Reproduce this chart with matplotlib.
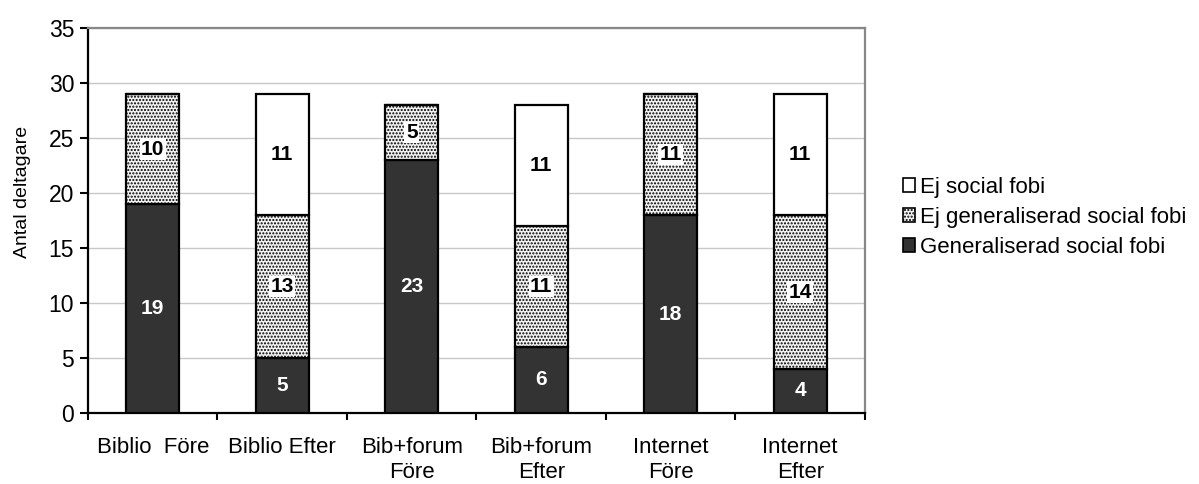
import numpy as np
import matplotlib.pyplot as plt
from matplotlib.patches import Patch

plt.rcParams['font.family'] = ['Liberation Sans', 'DejaVu Sans']
plt.rcParams['hatch.linewidth'] = 1.0

categories = ['Biblio  Före', 'Biblio Efter', 'Bib+forum\nFöre', 'Bib+forum\nEfter',
              'Internet\nFöre', 'Internet\nEfter']
generaliserad = [19, 5, 23, 6, 18, 4]
ej_generaliserad = [10, 13, 5, 11, 11, 14]
ej_social = [0, 11, 0, 11, 0, 11]

fig = plt.figure(figsize=(11.99, 4.84), dpi=100)
ax = fig.add_axes([0.0734, 0.1467, 0.648, 0.7954])

x = np.arange(len(categories))
w = 0.41
gen = np.array(generaliserad)
ejgen = np.array(ej_generaliserad)
ejsoc = np.array(ej_social)

ax.bar(x, gen, w, color='#333333', edgecolor='black', linewidth=1.6, zorder=3)
ax.bar(x, ejgen, w, bottom=gen, color='#f2f2f2', edgecolor='black',
       hatch='.....', linewidth=1.6, zorder=3)
ax.bar(x, ejsoc, w, bottom=gen + ejgen, color='white', edgecolor='black',
       linewidth=1.6, zorder=3)

# segment labels
for i in x:
    ax.text(i, gen[i] / 2, str(gen[i]), ha='center', va='center', color='white',
            fontsize=15, fontweight='bold', zorder=5)
    ax.text(i, gen[i] + ejgen[i] / 2, str(ejgen[i]), ha='center', va='center',
            fontsize=15, fontweight='bold', zorder=5,
            bbox=dict(facecolor='white', edgecolor='none', pad=1.0))
    if ejsoc[i] > 0:
        ax.text(i, gen[i] + ejgen[i] + ejsoc[i] / 2, str(ejsoc[i]), ha='center',
                va='center', fontsize=15, fontweight='bold', zorder=5)

ax.set_xlim(-0.5, len(categories) - 0.5)
ax.set_ylim(0, 35)
ax.set_yticks(np.arange(0, 36, 5))
ax.yaxis.grid(True, color='#c8c8c8', linewidth=1.0, zorder=0)
ax.set_axisbelow(True)

ax.set_xticks(x)
ax.set_xticklabels(categories, fontsize=16, linespacing=1.3)
ax.set_xticks(np.arange(-0.5, len(categories)), minor=True)
ax.tick_params(axis='x', which='major', length=0, pad=17)
ax.tick_params(axis='x', which='minor', length=5, width=1.5, direction='out')
ax.tick_params(axis='y', length=6, width=1.5, direction='out', labelsize=16.5, pad=4)

for s in ['left', 'bottom']:
    ax.spines[s].set_color('black')
    ax.spines[s].set_linewidth(1.6)
for s in ['top', 'right']:
    ax.spines[s].set_color('#888888')
    ax.spines[s].set_linewidth(1.6)

ax.set_ylabel('Antal deltagare', fontsize=14)
ax.yaxis.set_label_coords(-0.074, 0.575)

handles = [
    Patch(facecolor='white', edgecolor='black', linewidth=1.2, label='Ej social fobi'),
    Patch(facecolor='#f2f2f2', edgecolor='black', hatch='.....', linewidth=1.2,
          label='Ej generaliserad social fobi'),
    Patch(facecolor='#333333', edgecolor='black', linewidth=1.2,
          label='Generaliserad social fobi'),
]
fig.legend(handles=handles, loc='center left', bbox_to_anchor=(0.744, 0.551),
           frameon=False, fontsize=16, handlelength=0.55, handleheight=0.55,
           handletextpad=0.2, labelspacing=0.4, borderpad=0)

fig.savefig('out.png', dpi=100)
